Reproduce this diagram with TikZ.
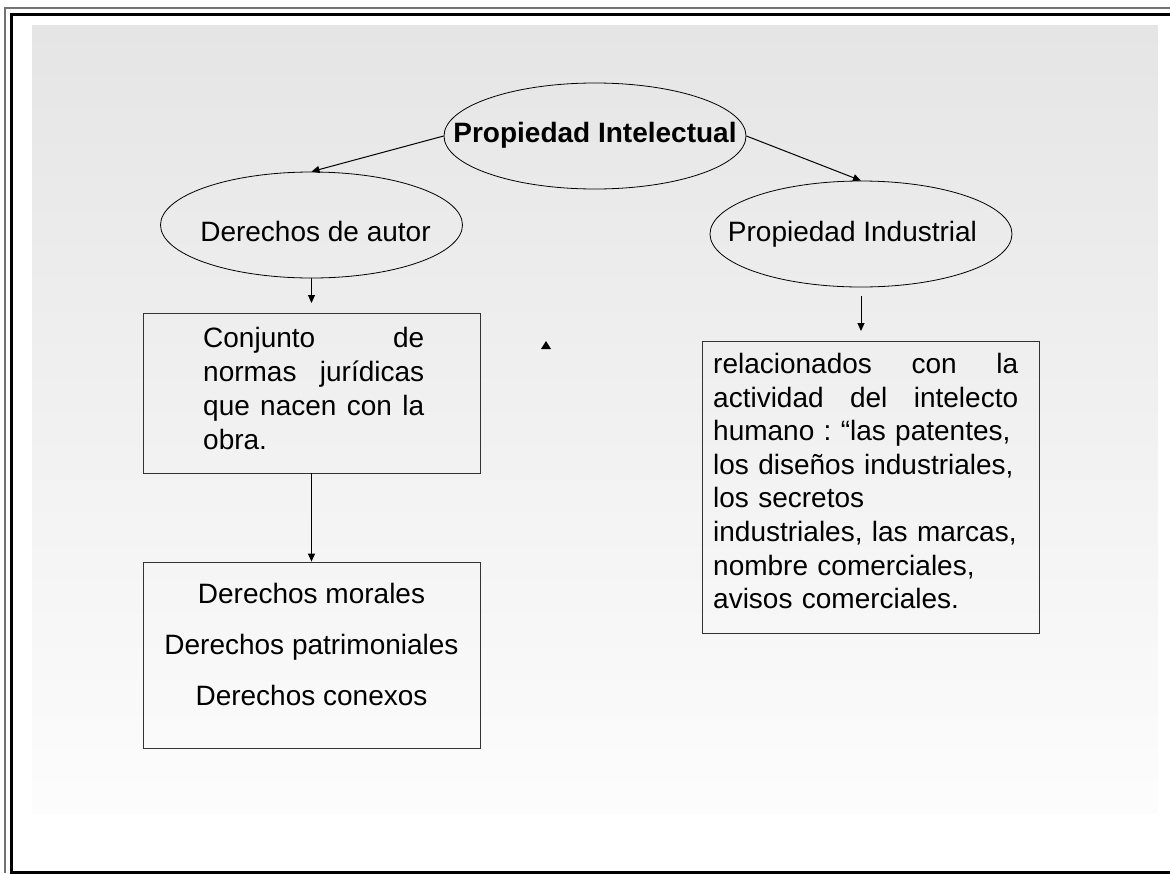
\documentclass[tikz,border=0pt]{standalone}
\usepackage{fontspec}
\setmainfont{Liberation Sans}
\frenchspacing
\usetikzlibrary{shapes.geometric,arrows.meta}
\definecolor{fondo}{HTML}{E5E5E5}
\begin{document}
\begin{tikzpicture}[x=1pt,y=-1pt,
    elipse/.style={draw,ellipse,line width=0.8pt,minimum width=302pt,minimum height=106pt,inner sep=0pt},
    caja/.style={draw=black!80,line width=0.8pt,minimum width=337pt,inner sep=0pt},
    texto/.style={inner sep=0pt,font=\fontsize{28}{34}\selectfont},
    flecha/.style={line width=1pt,-{Triangle[length=8pt,width=7pt]}}]
  \useasboundingbox (0,0) rectangle (1170,873);
  % Hintergrund
  \shade[top color=fondo,bottom color=black!1] (32,25) rectangle (1158,813);
  % Rahmen
  \draw[line width=2.5pt,black!55] (5,873) -- (5,8) -- (1170,8);
  \draw[line width=3pt] (1170,872) -- (11,872) -- (11,14) -- (1170,14);
  % Ellipsen
  \node[elipse] (PI) at (595,136) {};
  \node[elipse] (DA) at (311.5,225) {};
  \node[elipse] (PInd) at (861,234) {};
  \node[texto,anchor=base,font=\fontsize{28}{34}\selectfont\bfseries] (tPI) at (595,142) {Propiedad Intelectual};
  \node[texto,anchor=base] (tDA) at (315.5,241) {Derechos de autor};
  \node[texto,anchor=base] (tPInd) at (852.5,241) {Propiedad Industrial};
  % Kaesten
  \node[caja,minimum height=160pt] (B1) at (311.5,393) {};
  \node[caja,minimum height=186pt] (B2) at (311.5,655) {};
  \node[caja,minimum height=292pt] (BR) at (870.5,487) {};
  \node[texto,anchor=north west,text width=221pt,align=left] (T1) at (203,327)
    {\makebox[221pt][s]{Conjunto\hfill de}\\ \makebox[221pt][s]{normas\hfill jurídicas}\\
     \makebox[221pt][s]{que\hfill nacen\hfill con\hfill la}\\ obra.};
  \node[texto,anchor=north,align=center,font=\fontsize{28}{51}\selectfont] (T2) at (311.5,583)
    {Derechos morales\\ Derechos patrimoniales\\ Derechos conexos};
  \node[texto,anchor=north west,text width=305pt,align=left,font=\fontsize{28}{33.6}\selectfont] (TR) at (713,353)
    {\makebox[305pt][s]{relacionados\hfill con\hfill la}\\ \makebox[305pt][s]{actividad\hfill del\hfill intelecto}\\
     humano : “las patentes,\\ los diseños industriales,\\ los secretos\\
     industriales, las marcas,\\ nombre comerciales,\\ avisos comerciales.};
  % Pfeile
  \coordinate (fA) at (311.5,303);
  \coordinate (fR) at (861,331);
  \foreach \von/\nach in {PI.west/DA.north,PI.east/PInd.north,B1.south/B2.north,DA.south/fA}
    \draw[flecha] (\von) -- (\nach);
  \draw[flecha] ([yshift=-9pt]PInd.south) -- (fR);
  % einzelne Spitze
  \fill (541,349) -- (546,341) -- (551,349) -- cycle;
\end{tikzpicture}
\end{document}
